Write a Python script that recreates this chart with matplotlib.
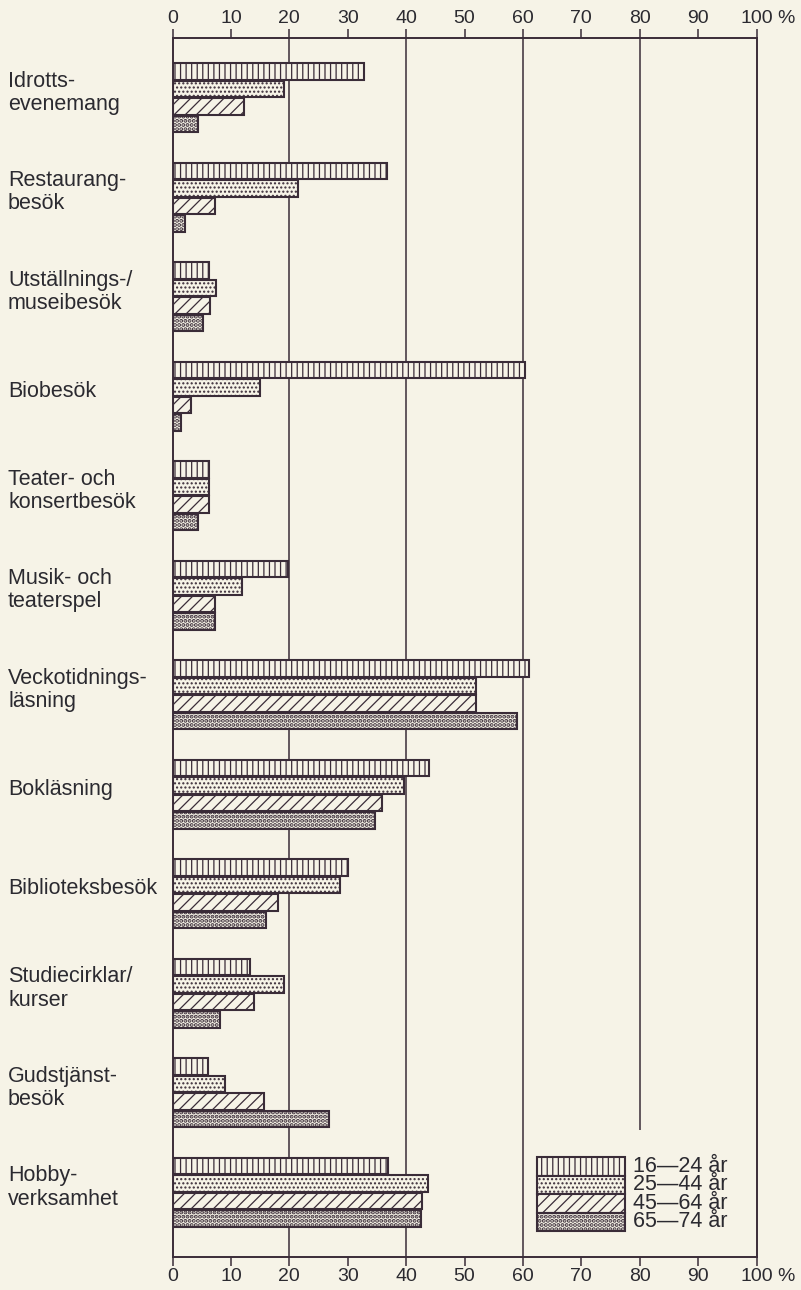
import matplotlib
matplotlib.use('Agg')
import matplotlib.pyplot as plt
import matplotlib.transforms as mtransforms
from matplotlib.patches import Rectangle
import numpy as np

categories = [
    'Idrotts-\nevenemang',
    'Restaurang-\nbesök',
    'Utställnings-/\nmuseibesök',
    'Biobesök',
    'Teater- och\nkonsertbesök',
    'Musik- och\nteaterspel',
    'Veckotidnings-\nläsning',
    'Bokläsning',
    'Biblioteksbesök',
    'Studiecirklar/\nkurser',
    'Gudstjänst-\nbesök',
    'Hobby-\nverksamhet',
]
age_16_24 = [32.8, 36.7, 6.2, 60.4, 6.3, 19.8, 61.0, 44.0, 30.0, 13.2, 6.1, 36.9]
age_25_44 = [19.1, 21.4, 7.5, 15.0, 6.3, 11.9, 51.9, 39.6, 28.7, 19.1, 9.0, 43.8]
age_45_64 = [12.3, 7.2, 6.5, 3.2, 6.3, 7.2, 51.9, 35.8, 18.0, 14.0, 15.7, 42.7]
age_65_74 = [4.3, 2.2, 5.2, 1.4, 4.4, 7.2, 59.0, 34.6, 16.0, 8.2, 26.8, 42.5]
series_labels = ['16—24 år', '25—44 år', '45—64 år', '65—74 år']
xticks = [0, 10, 20, 30, 40, 50, 60, 70, 80, 90, 100]
grid_full = [20, 40, 60]
grid_short = [80]

BG = '#f6f3e7'
INK = '#3a2c38'
TXT = '#2b2a30'
hatches = ['|||', '....', '///', '....']
hatch_lw = [0.9, 1.0, 0.9, 2.0]
FS = 15.5

plt.rcParams['font.family'] = ['Liberation Sans', 'DejaVu Sans']


def set_hlw(patch, lw):
    # per-patch hatch linewidth (matplotlib >= 3.10)
    if hasattr(patch, 'set_hatch_linewidth'):
        patch.set_hatch_linewidth(lw)


fig = plt.figure(figsize=(8.01, 12.90), dpi=100, facecolor=BG)
ax = fig.add_axes([0.2154, 0.02558, 0.7291, 0.94496])
ax.set_facecolor(BG)

series = [age_16_24, age_25_44, age_45_64, age_65_74]
y = np.arange(len(categories))
step = 0.176
h = 0.165
for i, vals in enumerate(series):
    with plt.rc_context({'hatch.linewidth': hatch_lw[i]}):
        bars = ax.barh(y + (i - 1.5) * step, vals, height=h, color=BG, edgecolor=INK,
                       hatch=hatches[i], linewidth=1.5, zorder=3)
    for b in bars:
        set_hlw(b, hatch_lw[i])

ax.set_xlim(0, 100)
ax.set_ylim(11.65, -0.6)

# vertical lines
for g in grid_full:
    ax.axvline(g, color=INK, lw=1.1, zorder=1)
for g in grid_short:
    ax.vlines(g, -0.6, 10.37, color=INK, lw=1.1, zorder=1)

for s in ['top', 'bottom', 'left', 'right']:
    ax.spines[s].set_color(INK)
    ax.spines[s].set_linewidth(1.4)

ax.set_xticks(xticks)
ax.set_xticklabels([str(t) for t in xticks])
ax.set_yticks([])
ax.tick_params(axis='x', top=True, labeltop=True, bottom=True, labelbottom=True,
               direction='out', length=6.5, width=1.1, color=INK, pad=1.5,
               labelsize=14, labelcolor=TXT)

# "%" after 100
ax.annotate('%', xy=(100, 1), xycoords=('data', 'axes fraction'),
            xytext=(15, 8), textcoords='offset points', ha='left', va='bottom',
            fontsize=14, color=TXT)
ax.annotate('%', xy=(100, 0), xycoords=('data', 'axes fraction'),
            xytext=(15, -8), textcoords='offset points', ha='left', va='top',
            fontsize=14, color=TXT)

# category labels
trans = mtransforms.blended_transform_factory(fig.transFigure, ax.transData)
for yi, cat in zip(y, categories):
    ax.text(8 / 801, yi - 0.05, cat, transform=trans, ha='left', va='center',
            fontsize=FS, color=TXT, linespacing=1.15)

# legend
lx0, lw = 62.4, 15.1
ly0, lh = 10.645, 0.186
for i, lab in enumerate(series_labels):
    with plt.rc_context({'hatch.linewidth': hatch_lw[i]}):
        p = Rectangle((lx0, ly0 + i * lh), lw, lh, facecolor=BG,
                      edgecolor=INK, hatch=hatches[i], linewidth=1.5, zorder=4)
    set_hlw(p, hatch_lw[i])
    ax.add_patch(p)
    ax.text(78.9, ly0 + (i + 0.5) * lh, lab, ha='left', va='center',
            fontsize=FS, color=TXT, zorder=4)

plt.savefig('out.png', dpi=100, facecolor=BG)
plt.close()
